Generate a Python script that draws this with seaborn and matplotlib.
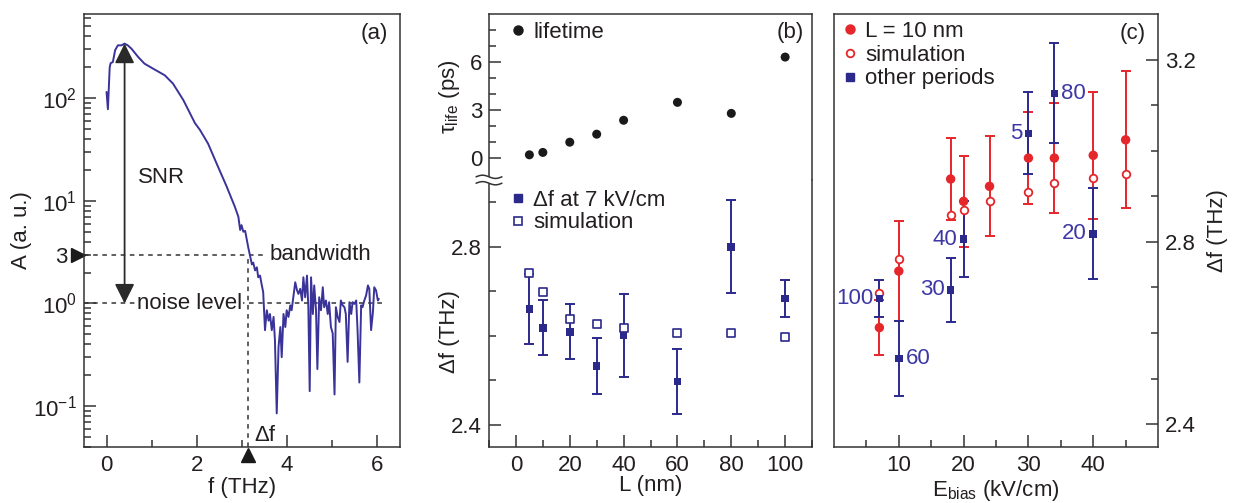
import numpy as np
import matplotlib
matplotlib.use("Agg")
import matplotlib.pyplot as plt
import matplotlib.ticker as mticker
import matplotlib.transforms as mtrans
from matplotlib.lines import Line2D
import seaborn as sns

# ---------------- data ----------------
# Panel (a): spectrum
spec_f = [0.00, 0.03, 0.07, 0.09, 0.14, 0.19, 0.25, 0.33, 0.40, 0.47, 0.55, 0.70, 0.84,
          1.03, 1.29, 1.47, 1.70, 1.96, 2.07, 2.25, 2.44, 2.66, 2.84, 2.92, 2.96, 2.99,
          3.03, 3.07, 3.14, 3.18, 3.22, 3.25, 3.29, 3.33, 3.36, 3.40, 3.44, 3.47, 3.51,
          3.55, 3.59, 3.62, 3.66, 3.70, 3.73, 3.77, 3.81, 3.85, 3.88, 3.92, 3.96, 3.99,
          4.03, 4.07, 4.10, 4.18, 4.22, 4.25, 4.29, 4.33, 4.36, 4.40, 4.44, 4.47, 4.50,
          4.53, 4.57, 4.60, 4.64, 4.67, 4.71, 4.75, 4.79, 4.82, 4.86, 4.90, 4.93, 4.97,
          5.01, 5.05, 5.08, 5.12, 5.16, 5.19, 5.23, 5.27, 5.30, 5.34, 5.38, 5.42, 5.45,
          5.49, 5.53, 5.56, 5.60, 5.64, 5.67, 5.71, 5.75, 5.79, 5.82, 5.86, 5.90, 5.93,
          5.97, 6.01, 6.03]
spec_A = [115, 78, 200, 219, 225, 293, 327, 327, 340, 327, 304, 252, 217,
          194, 167, 139, 96, 57, 49, 36, 23, 13.8, 8.8, 7.0, 5.2, 5.8,
          5.0, 5.1, 3.5, 2.9, 2.4, 2.5, 2.1, 2.25, 1.8, 1.87, 1.5, 1.29, 0.55,
          0.86, 0.68, 0.79, 0.55, 0.74, 0.44, 0.085, 0.38, 0.59, 0.30, 0.79, 0.59, 0.86,
          0.74, 0.96, 0.86, 1.61, 1.34, 1.24, 1.39, 1.07, 1.80, 1.15, 1.87, 0.92, 0.14,
          1.80, 0.79, 1.50, 0.86, 0.23, 1.15, 0.86, 1.44, 0.92, 1.07, 0.79, 1.03, 0.59,
          0.51, 0.13, 0.92, 0.74, 0.66, 1.07, 0.96, 0.92, 0.79, 0.27, 1.03, 0.79, 1.03,
          0.99, 1.07, 0.55, 0.17, 0.96, 0.92, 1.07, 1.20, 1.50, 1.39, 0.55, 0.82, 1.44,
          1.34, 1.07, 1.11]
snr_f = 0.40
peak_A = 340
noise_A = 1.0
band_A = 3.0
bandwidth_f = 3.13

# Panel (b)
L_nm = [5, 10, 20, 30, 40, 60, 80, 100]
tau_life = [0.20, 0.35, 0.99, 1.49, 2.36, 3.48, 2.79, 6.31]
df_7kV = [2.660, 2.618, 2.609, 2.532, 2.601, 2.497, 2.800, 2.684]
df_7kV_err = [0.079, 0.062, 0.062, 0.062, 0.093, 0.073, 0.104, 0.041]
df_sim_L = [2.740, 2.699, 2.638, 2.627, 2.617, 2.607, 2.607, 2.597]

# Panel (c)
E_L10 = [7, 10, 18, 20, 24, 30, 34, 40, 45]
df_L10 = [2.612, 2.736, 2.938, 2.889, 2.922, 2.984, 2.984, 2.990, 3.024]
df_L10_err = [0.06, 0.11, 0.09, 0.10, 0.11, 0.10, 0.12, 0.14, 0.15]
df_sim_E = [2.689, 2.762, 2.860, 2.870, 2.890, 2.910, 2.929, 2.940, 2.950]
E_other = [7, 10, 18, 20, 30, 34, 40]
L_other = ["100", "60", "30", "40", "5", "80", "20"]
df_other = [2.676, 2.544, 2.695, 2.806, 3.038, 3.126, 2.818]
df_other_err = [0.04, 0.082, 0.07, 0.083, 0.09, 0.11, 0.10]

# ---------------- style ----------------
sns.set_theme(style="white")
plt.rcParams["font.family"] = ["Liberation Sans", "DejaVu Sans"]
plt.rcParams["mathtext.fontset"] = "custom"
plt.rcParams["mathtext.rm"] = "Liberation Sans"
plt.rcParams["mathtext.it"] = "Liberation Sans:italic"
plt.rcParams["mathtext.bf"] = "Liberation Sans:bold"
plt.rcParams["mathtext.sf"] = "Liberation Sans"

FS = 16
TXT = "#231f20"
SPINE = "#333333"
LINE = "#3a3399"
BLUE = "#2b298c"
BLUE_TXT = "#3d38a3"
RED = "#e5262b"
BLACK = "#1a1a1a"
DASH = (0, (3.0, 3.0))
LABEL_SIDE = ["left", "right", "left", "left", "left", "right", "left"]


def style_ax(ax):
    for s in ax.spines.values():
        s.set_color(SPINE)
        s.set_linewidth(1.1)
    ax.tick_params(which="both", direction="in", color=SPINE, width=1.1,
                   labelsize=FS, labelcolor=TXT, pad=5,
                   bottom=True, left=True, top=False, right=False)
    ax.tick_params(which="major", length=8.5)
    ax.tick_params(which="minor", length=5)
    ax.grid(False)


fig = plt.figure(figsize=(12.33, 5.03), dpi=100)
axA = fig.add_axes([0.0681, 0.1113, 0.2563, 0.8608])
axBt = fig.add_axes([0.3966, 0.6421, 0.2620, 0.3300])
axBb = fig.add_axes([0.3966, 0.1113, 0.2620, 0.5308])
axC = fig.add_axes([0.6764, 0.1113, 0.2628, 0.8608])

# ---------------- panel (a) ----------------
style_ax(axA)
sns.lineplot(x=spec_f, y=spec_A, ax=axA, color=LINE, lw=1.4, estimator=None,
             sort=False, legend=False, zorder=3)
axA.set_yscale("log")
axA.set_xlim(-0.5, 6.5)
axA.set_ylim(0.04, 660)
axA.xaxis.set_major_locator(mticker.MultipleLocator(2))
axA.xaxis.set_minor_locator(mticker.MultipleLocator(1))
axA.yaxis.set_major_locator(mticker.LogLocator(base=10, numticks=10))
axA.yaxis.set_minor_locator(mticker.LogLocator(base=10, subs=np.arange(2, 10), numticks=30))
axA.yaxis.set_minor_formatter(mticker.FuncFormatter(lambda v, p: "3" if abs(v - 3) < 1e-6 else ""))
style_ax(axA)
axA.tick_params(axis="y", which="minor", labelsize=FS, pad=12)
axA.tick_params(axis="x", which="major", pad=6)

xmin, xmax = axA.get_xlim()
ymin, ymax = axA.get_ylim()
axA.plot([xmin, 3.5], [band_A, band_A], ls=DASH, color=SPINE, lw=1.1, zorder=1)
axA.plot([xmin, 6.13], [noise_A, noise_A], ls=DASH, color=SPINE, lw=1.1, zorder=1)
axA.plot([bandwidth_f, bandwidth_f], [ymin, band_A], ls=DASH, color=SPINE, lw=1.1, zorder=2)
axA.annotate("", xy=(snr_f, peak_A), xytext=(snr_f, noise_A),
             arrowprops=dict(arrowstyle="<|-|>,head_length=0.6,head_width=0.3",
                             color="#2a2a2a", lw=1.3, shrinkA=0, shrinkB=0,
                             mutation_scale=20), zorder=4)
tr_y = mtrans.blended_transform_factory(axA.transAxes, axA.transData)
axA.plot([-0.018], [band_A], marker=">", ms=10, color="#1a1a1a", transform=tr_y,
         clip_on=False, ls="none")
tr_x = mtrans.blended_transform_factory(axA.transData, axA.transAxes)
axA.plot([bandwidth_f], [-0.019], marker="^", ms=10, color="#1a1a1a", transform=tr_x,
         clip_on=False, ls="none")
axA.text(0.69, 17, "SNR", fontsize=FS, color=TXT, va="center", ha="left")
axA.text(0.68, noise_A, "noise level", fontsize=FS, color=TXT, va="center", ha="left",
         bbox=dict(facecolor="white", edgecolor="none", pad=0.5), zorder=2)
axA.text(3.62, band_A, "bandwidth", fontsize=FS, color=TXT, va="center", ha="left",
         bbox=dict(facecolor="white", edgecolor="none", pad=0.5), zorder=2)
axA.text(3.27, 0.052, "Δf", fontsize=FS, color=TXT, va="center", ha="left")
axA.text(0.92, 0.956, "(a)", fontsize=FS, color=TXT, va="center", ha="center",
         transform=axA.transAxes)
axA.set_xlabel("f (THz)", fontsize=FS, color=TXT)
axA.set_ylabel("A (a. u.)", fontsize=FS, color=TXT)
axA.xaxis.set_label_coords(0.5, -0.069)
axA.yaxis.set_label_coords(-0.165, 0.5)

# ---------------- panel (b) top ----------------
style_ax(axBt)
sns.scatterplot(x=L_nm, y=tau_life, ax=axBt, color=BLACK, s=42, edgecolor="none",
                legend=False, zorder=3)
axBt.set_xlim(-10, 110)
axBt.set_ylim(-1.375, 9.0)
axBt.spines["bottom"].set_visible(False)
axBt.tick_params(axis="x", which="both", bottom=False, top=False, labelbottom=False)
axBt.yaxis.set_major_locator(mticker.FixedLocator([0, 3, 6]))
axBt.yaxis.set_minor_locator(mticker.FixedLocator([1, 2, 4, 5, 7, 8]))
axBt.set_ylabel(r"$\mathrm{τ}_{\mathrm{life}}$ (ps)", fontsize=FS, color=TXT)
axBt.yaxis.set_label_coords(-0.085, 0.5)
axBt.text(0.932, 0.886, "(b)", fontsize=FS, color=TXT, va="center", ha="center",
          transform=axBt.transAxes)
axBt.legend(handles=[Line2D([], [], marker="o", color=BLACK, ls="none", ms=6.5)],
            labels=["lifetime"], loc="upper left", bbox_to_anchor=(0.068, 0.952),
            frameon=False, fontsize=FS, handlelength=0.6, handletextpad=0.4,
            borderpad=0, borderaxespad=0, labelcolor=TXT)

# ---------------- panel (b) bottom ----------------
style_ax(axBb)
axBb.errorbar(L_nm, df_7kV, yerr=df_7kV_err, fmt="none", ecolor=BLUE, elinewidth=1.4,
              capsize=3.5, capthick=1.4, zorder=2)
sns.scatterplot(x=L_nm, y=df_sim_L, ax=axBb, marker="s", s=26, color="white",
                edgecolor=BLUE, linewidth=1.2, legend=False, zorder=3)
sns.scatterplot(x=L_nm, y=df_7kV, ax=axBb, marker="s", s=30, color=BLUE,
                edgecolor="none", legend=False, zorder=4)
axBb.set_xlim(-10, 110)
axBb.set_ylim(2.35, 2.95)
axBb.spines["top"].set_visible(False)
axBb.xaxis.set_major_locator(mticker.MultipleLocator(20))
axBb.xaxis.set_minor_locator(mticker.MultipleLocator(10))
axBb.yaxis.set_major_locator(mticker.FixedLocator([2.4, 2.8]))
axBb.yaxis.set_minor_locator(mticker.FixedLocator([2.5, 2.6, 2.7, 2.9]))
axBb.yaxis.set_major_formatter(mticker.FormatStrFormatter("%.1f"))
axBb.tick_params(axis="x", which="major", pad=6)
axBb.set_xlabel("L (nm)", fontsize=FS, color=TXT)
axBb.xaxis.set_label_coords(0.5, -0.105)
axBb.set_ylabel("Δf (THz)", fontsize=FS, color=TXT)
axBb.yaxis.set_label_coords(-0.09, 0.434)
h_b = [Line2D([], [], marker="s", color=BLUE, ls="none", ms=5.2),
       Line2D([], [], marker="s", mfc="white", mec=BLUE, mew=1.2, ls="none", ms=5.2)]
axBb.legend(handles=h_b, labels=["Δf at 7 kV/cm", "simulation"], loc="upper left",
            bbox_to_anchor=(0.068, 0.962), frameon=False, fontsize=FS, handlelength=0.6,
            handletextpad=0.4, borderpad=0, borderaxespad=0, labelspacing=0.05,
            labelcolor=TXT)
# axis break mark on left spine
bx = np.linspace(-0.04, 0.04, 40)
wave = 0.006 * np.sin((bx + 0.04) / 0.08 * 2 * np.pi)
axBb.fill_between(bx, 1.0 - 0.012 + wave, 1.0 + 0.012 + wave, color="white",
                  transform=axBb.transAxes, clip_on=False, zorder=5, lw=0)
axBb.plot(bx, 1.0 - 0.012 + wave, color=SPINE, lw=1.1, transform=axBb.transAxes,
          clip_on=False, zorder=6)
axBb.plot(bx, 1.0 + 0.012 + wave, color=SPINE, lw=1.1, transform=axBb.transAxes,
          clip_on=False, zorder=6)

# ---------------- panel (c) ----------------
style_ax(axC)
axC.errorbar(E_L10, df_L10, yerr=df_L10_err, fmt="none", ecolor=RED, elinewidth=1.4,
             capsize=3.5, capthick=1.4, zorder=2)
axC.errorbar(E_other, df_other, yerr=df_other_err, fmt="none", ecolor=BLUE,
             elinewidth=1.4, capsize=3.5, capthick=1.4, zorder=3)
sns.scatterplot(x=E_L10, y=df_sim_E, ax=axC, marker="o", s=30, color="white",
                edgecolor=RED, linewidth=1.3, legend=False, zorder=4)
sns.scatterplot(x=E_L10, y=df_L10, ax=axC, marker="o", s=46, color=RED,
                edgecolor="none", legend=False, zorder=4)
sns.scatterplot(x=E_other, y=df_other, ax=axC, marker="s", s=30, color=BLUE,
                edgecolor="none", legend=False, zorder=5)
for e, d, lab, side in zip(E_other, df_other, L_other, LABEL_SIDE):
    off = -4.5 if side == "left" else 5
    axC.annotate(lab, (e, d), xytext=(off, 0), textcoords="offset points",
                 ha="right" if side == "left" else "left", va="center",
                 fontsize=FS, color=BLUE_TXT, zorder=6)
axC.set_xlim(0, 50)
axC.set_ylim(2.35, 3.30)
axC.yaxis.tick_right()
axC.yaxis.set_label_position("right")
axC.tick_params(axis="y", which="both", left=False, right=True, labelleft=False,
                labelright=True)
axC.xaxis.set_major_locator(mticker.FixedLocator([10, 20, 30, 40]))
axC.xaxis.set_minor_locator(mticker.FixedLocator([5, 15, 25, 35, 45]))
axC.yaxis.set_major_locator(mticker.FixedLocator([2.4, 2.8, 3.2]))
axC.yaxis.set_minor_locator(mticker.FixedLocator([2.5, 2.6, 2.7, 2.9, 3.0, 3.1]))
axC.yaxis.set_major_formatter(mticker.FormatStrFormatter("%.1f"))
axC.tick_params(axis="x", which="major", pad=6)
axC.set_xlabel(r"$\mathrm{E}_{\mathrm{bias}}$ (kV/cm)", fontsize=FS, color=TXT)
axC.xaxis.set_label_coords(0.5, -0.072)
axC.set_ylabel("Δf (THz)", fontsize=FS, color=TXT)
axC.yaxis.set_label_coords(1.15, 0.5)
axC.text(0.923, 0.956, "(c)", fontsize=FS, color=TXT, va="center", ha="center",
         transform=axC.transAxes)
h_c = [Line2D([], [], marker="o", color=RED, ls="none", ms=6.5),
       Line2D([], [], marker="o", mfc="white", mec=RED, mew=1.3, ls="none", ms=5.5),
       Line2D([], [], marker="s", color=BLUE, ls="none", ms=5.2)]
axC.legend(handles=h_c, labels=["L = 10 nm", "simulation", "other periods"],
           loc="upper left", bbox_to_anchor=(0.028, 0.984), frameon=False, fontsize=FS,
           handlelength=0.6, handletextpad=0.4, borderpad=0, borderaxespad=0,
           labelspacing=0.12, labelcolor=TXT)

fig.savefig("out.png", dpi=100)
